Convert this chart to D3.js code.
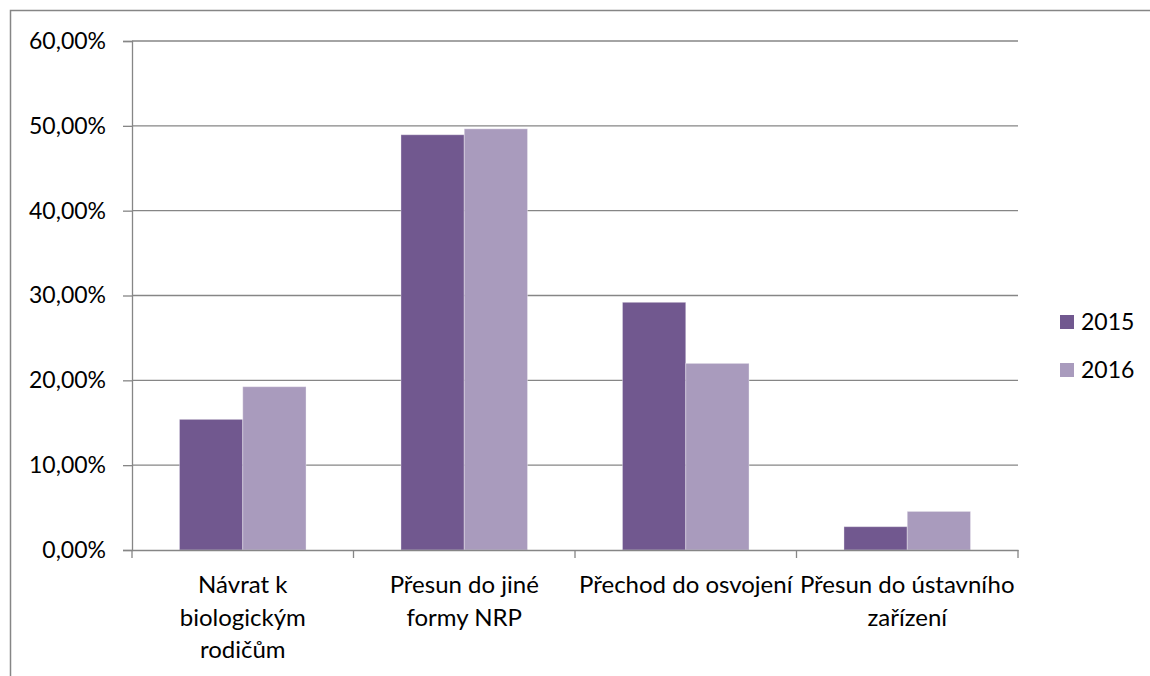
<!DOCTYPE html>
<html>
<head>
<meta charset="utf-8">
<script src="https://cdnjs.cloudflare.com/ajax/libs/d3/7.8.5/d3.min.js"></script>
<style>
  body { margin: 0; background: #fff; }
  text { font-family: Lato, sans-serif; fill: #000; }
</style>
</head>
<body>
<div id="chart"></div>
<script>
// data
var categories = ["Návrat k\nbiologickým\nrodičům", "Přesun do jiné\nformy NRP", "Přechod do osvojení", "Přesun do ústavního\nzařízení"];
var years = ["2015", "2016"];
var values2015 = [15.4, 48.95, 29.2, 2.75];
var values2016 = [19.25, 49.65, 22.0, 4.55];
var yTicks = [0, 10, 20, 30, 40, 50, 60];
var colors = ["#71588f", "#a99bbd"];

var svgWidth = 1150;
var svgHeight = 676;
var fontSize = "23px";

var margin = { top: 41, right: 132, bottom: 126, left: 132 };
var width = svgWidth - margin.left - margin.right;
var height = svgHeight - margin.top - margin.bottom;

var svg = d3.select("#chart")
    .append("svg")
    .attr("width", svgWidth)
    .attr("height", svgHeight);

// outer frame (right and bottom edges fall outside the picture)
svg.append("rect")
    .attr("x", 10.5).attr("y", 10.5)
    .attr("width", 1200).attr("height", 700)
    .attr("fill", "none")
    .attr("stroke", "#868686")
    .attr("stroke-width", 1.5);

var chartGroup = svg.append("g")
    .attr("transform", `translate(${margin.left}, ${margin.top})`);

var xScale = d3.scaleBand()
    .domain(categories)
    .range([0, width]);

var yScale = d3.scaleLinear()
    .domain([0, 60])
    .range([height, 0]);

// gridlines
chartGroup.selectAll(".grid")
    .data(yTicks.slice(1))
    .enter()
    .append("line")
    .attr("x1", 0)
    .attr("x2", width)
    .attr("y1", d => yScale(d))
    .attr("y2", d => yScale(d))
    .attr("stroke", "#868686")
    .attr("stroke-width", 1.3);

// y axis
var leftAxis = d3.axisLeft(yScale)
    .tickValues(yTicks)
    .tickSize(9)
    .tickPadding(17)
    .tickFormat(d => d3.format(".2f")(d).replace(".", ",") + "%");

var yAxis = chartGroup.append("g").call(leftAxis);
yAxis.select(".domain").attr("stroke", "#868686").attr("stroke-width", 1.3);
yAxis.selectAll(".tick line").attr("stroke", "#868686").attr("stroke-width", 1.3);
yAxis.selectAll(".tick text")
    .style("font-size", fontSize)
    .style("font-family", "Lato, sans-serif")
    .attr("fill", "#000");

// bars
var barGroup = chartGroup.append("g");
var gap = 1.5;
var barW = xScale.bandwidth() / (2 + gap);
var series = [values2015, values2016];

series.forEach(function(vals, s) {
    barGroup.selectAll(".bar" + s)
        .data(vals)
        .enter()
        .append("rect")
        .attr("x", (d, i) => xScale(categories[i]) + barW * gap / 2 + s * barW)
        .attr("y", d => yScale(d))
        .attr("width", barW)
        .attr("height", d => yScale(0) - yScale(d))
        .attr("fill", colors[s])
        .attr("stroke", "#ffffff")
        .attr("stroke-opacity", 0.35)
        .attr("stroke-width", 1);
});

// x axis
var bottomAxis = d3.axisBottom(xScale)
    .tickSize(0)
    .tickFormat("");

var xAxis = chartGroup.append("g")
    .attr("transform", `translate(0, ${height})`)
    .call(bottomAxis);
xAxis.select(".domain").attr("stroke", "#868686").attr("stroke-width", 1.3);

// category tick marks at band edges
var edges = categories.map(c => xScale(c)).concat([width]);
xAxis.selectAll(".edge")
    .data(edges)
    .enter()
    .append("line")
    .attr("x1", d => d)
    .attr("x2", d => d)
    .attr("y1", 0)
    .attr("y2", 8)
    .attr("stroke", "#868686")
    .attr("stroke-width", 1.3);

// category labels
categories.forEach(function(c) {
    var lines = c.split("\n");
    var t = xAxis.append("text")
        .attr("text-anchor", "middle")
        .style("font-size", "24px");
    lines.forEach(function(line, k) {
        t.append("tspan")
            .attr("x", xScale(c) + xScale.bandwidth() / 2)
            .attr("y", 43 + k * 32.5)
            .text(line);
    });
});

// legend
var legend = svg.append("g")
    .attr("transform", "translate(1060, 315)");

years.forEach(function(y, i) {
    legend.append("rect")
        .attr("x", 0)
        .attr("y", i * 48)
        .attr("width", 14)
        .attr("height", 14)
        .attr("fill", colors[i]);
    legend.append("text")
        .attr("x", 21)
        .attr("y", i * 48 + 15)
        .style("font-size", fontSize)
        .text(y);
});
</script>
</body>
</html>
